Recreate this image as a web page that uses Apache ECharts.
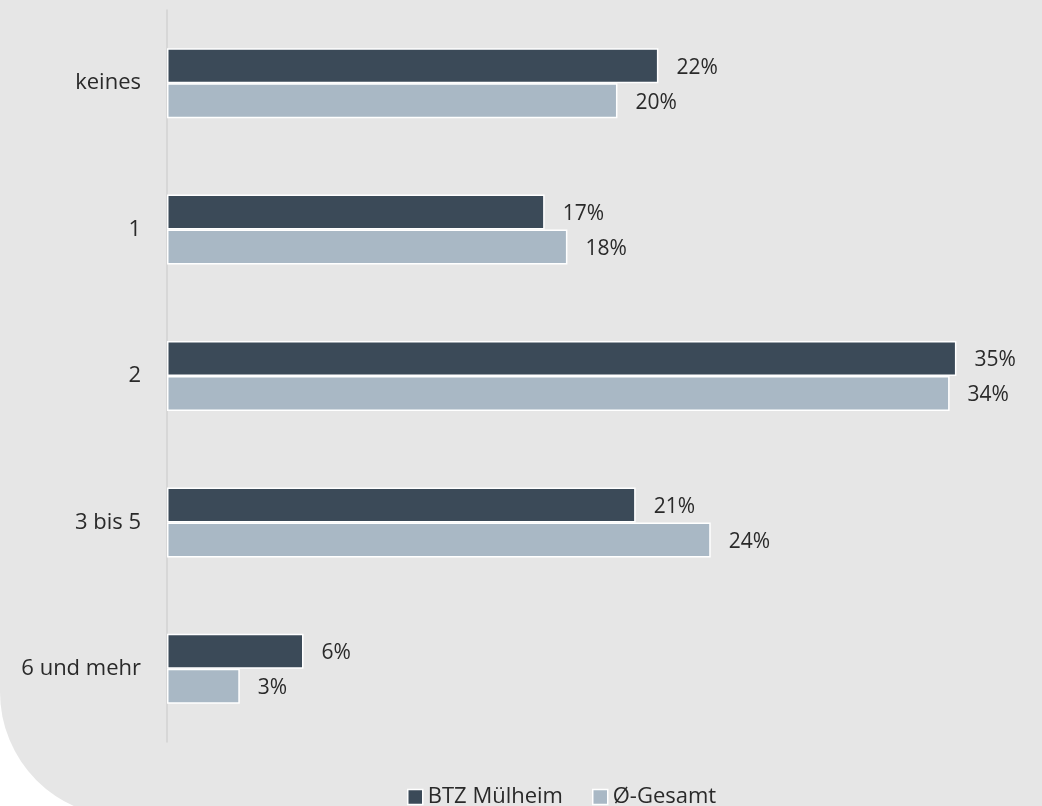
<!DOCTYPE html>
<html lang="de">
<head>
    <meta charset="UTF-8">
    <title>Anzahl</title>
    <script src="https://cdn.jsdelivr.net/npm/echarts@6/dist/echarts.min.js"></script>
    <style>
        html, body { margin: 0; padding: 0; background: #ffffff; }
        #main { width: 1042px; height: 806px; }
    </style>
</head>
<body>
<div id="main"></div>
<script>
    // Kategorien und Werte (in %)
    var categories = ['keines', '1', '2', '3 bis 5', '6 und mehr'];
    var btzValues = [21.6, 16.6, 34.7, 20.6, 6.0];
    var gesamtValues = [19.8, 17.6, 34.4, 23.9, 3.2];
    var seriesNames = ['BTZ Mülheim', 'Ø-Gesamt'];

    var textColor = '#2a2a2a';
    var fontName = '"Open Sans", "Segoe UI", sans-serif';

    var myChart = echarts.init(document.getElementById('main'));

    function barLabel() {
        return {
            show: true,
            position: 'right',
            distance: 18,
            offset: [0, 2],
            color: textColor,
            fontFamily: fontName,
            fontSize: 21,
            formatter: function (p) {
                return Math.round(p.value) + '%';
            }
        };
    }

    var option = {
        animation: false,
        textStyle: { fontFamily: fontName },
        graphic: [{
            type: 'rect',
            z: -10,
            silent: true,
            shape: { x: 0, y: -20, width: 1062, height: 837, r: [0, 0, 0, 125] },
            style: { fill: '#e6e6e6' }
        }],
        legend: {
            data: seriesNames,
            left: 402,
            top: 781,
            icon: 'rect',
            itemWidth: 15,
            itemHeight: 15,
            itemGap: 29,
            itemTextGap: 6,
            itemStyle: { borderColor: '#ffffff', borderWidth: 1.5 },
            textStyle: { color: textColor, fontSize: 22, fontFamily: fontName }
        },
        grid: {
            left: 167,
            top: 10,
            width: 36 * 22.75,
            bottom: 64
        },
        xAxis: {
            type: 'value',
            min: 0,
            max: 36,
            show: false
        },
        yAxis: {
            type: 'category',
            data: categories,
            inverse: true,
            axisLine: { show: true, lineStyle: { color: '#d2d2d2', width: 1.5 } },
            axisTick: { show: false },
            axisLabel: {
                color: textColor,
                fontSize: 22,
                fontFamily: fontName,
                margin: 26
            }
        },
        series: [
            {
                name: seriesNames[0],
                type: 'bar',
                data: btzValues,
                barWidth: 35,
                barGap: '0%',
                itemStyle: { color: '#3b4a58', borderColor: '#ffffff', borderWidth: 1.5 },
                label: barLabel()
            },
            {
                name: seriesNames[1],
                type: 'bar',
                data: gesamtValues,
                barWidth: 35,
                itemStyle: { color: '#a9b8c5', borderColor: '#ffffff', borderWidth: 1.5 },
                label: barLabel()
            }
        ]
    };

    myChart.setOption(option);
</script>
</body>
</html>
